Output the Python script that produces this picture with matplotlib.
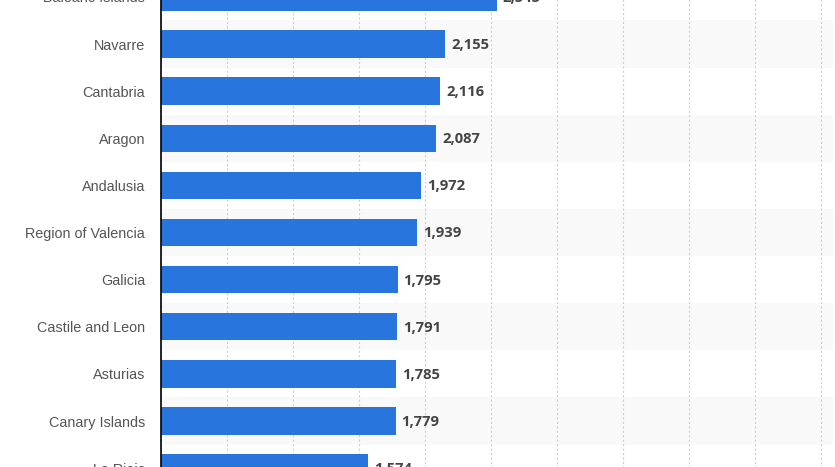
import matplotlib
matplotlib.use("Agg")
import matplotlib.pyplot as plt
from matplotlib.ticker import MultipleLocator

regions = ["Balearic Islands", "Navarre", "Cantabria", "Aragon", "Andalusia",
           "Region of Valencia", "Galicia", "Castile and Leon", "Asturias",
           "Canary Islands", "La Rioja"]
values = [2545, 2155, 2116, 2087, 1972, 1939, 1795, 1791, 1785, 1779, 1574]

W, H = 835, 467
fig = plt.figure(figsize=(W / 100, H / 100), dpi=100)
fig.patch.set_facecolor("white")

row = 47.125
first_center = -3.1
n = len(regions)
top_px = first_center - row / 2
bot_px = first_center + (n - 0.5) * row
left_px, right_px = 160.5, 833
ax = fig.add_axes([left_px / W, 1 - bot_px / H, (right_px - left_px) / W, (bot_px - top_px) / H])

y = list(range(n))
for i in y:
    if i % 2 == 1:
        ax.axhspan(i - 0.5, i + 0.5, color="#f9f9f9", zorder=0, lw=0)

ax.barh(y, values, height=0.58, color="#2876dd", zorder=3)

ax.set_ylim(n - 0.5, -0.5)
ax.set_xlim(0, 5090)
ax.xaxis.set_major_locator(MultipleLocator(500))
ax.grid(axis="x", color="#d0d0d0", linestyle=(0, (2, 2)), linewidth=0.8, zorder=1)
ax.set_axisbelow(True)

for s in ["top", "right", "bottom"]:
    ax.spines[s].set_visible(False)
ax.spines["left"].set_color("black")
ax.spines["left"].set_linewidth(1.2)
ax.spines["left"].set_zorder(5)

ax.set_yticks(y)
ax.set_yticklabels(regions, fontsize=10.4, color="#555555", family="Liberation Sans")
ax.tick_params(axis="y", length=0, pad=11)
ax.tick_params(axis="x", length=0, labelbottom=False)

for i, v in enumerate(values):
    ax.annotate(f"{v:,}", xy=(v, i), xytext=(4.3, -0.7), textcoords="offset points",
                va="center", ha="left", fontsize=10.6, color="#444444",
                fontweight="bold", family="Open Sans", zorder=6)

fig.savefig("out.png", dpi=100)
